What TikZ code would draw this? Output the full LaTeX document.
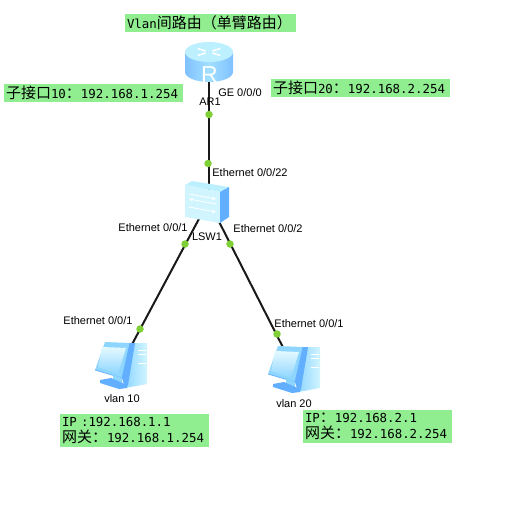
\documentclass[tikz,border=0pt]{standalone}
\usepackage{fontspec}
\setmainfont{Liberation Sans}
\newfontfamily\cjk{Noto Sans CJK SC}
\newfontfamily\monof{DejaVu Sans Mono}
\newcommand{\zh}[1]{{\cjk\fontsize{15}{16}\selectfont #1}}
\usetikzlibrary{calc}
\definecolor{notegreen}{HTML}{90EE90}
\definecolor{portgreen}{HTML}{7FD037}
\definecolor{iconlight}{HTML}{BDF0FF}
\definecolor{iconmid}{HTML}{8FD6FF}
\definecolor{icondark}{HTML}{62AEFF}
\tikzset{
  devnode/.style={inner sep=0pt,minimum size=2pt},
  portdot/.style={circle,fill=portgreen,inner sep=0pt,minimum size=7.5pt},
  portlabel/.style={font=\fontsize{11}{12}\selectfont,inner sep=0pt,yshift=-.7pt},
  notebox/.style={fill=notegreen,inner xsep=2pt,inner ysep=0pt,align=left,
    font=\monof\fontsize{12.4}{16}\selectfont},
  link/.style={line width=2pt,black!90},
  pics/pcicon/.style={code={
    \shade[left color=iconmid,right color=iconlight!70] (9,-22)--(26,-22)--(26,19)--(4,23)--cycle;
    \fill[icondark] (9,-22)--(14,-22)--(7,20)--(4,23)--(1,13)--cycle;
    \draw[white,line width=.7pt] (17,-15)--(25,-15) (17,-11)--(25,-11) (17,-2)--(25,-2);
    \fill[iconmid] (-16,-23)--(9,-22)--(1,13)--(-26,5)--cycle;
    \shade[top color=white!60!iconlight,bottom color=iconmid] (-19,-18)--(5,-17)--(-3,9)--(-23,2)--cycle;
    \draw[icondark,line width=.7pt] (9,-22)--(1,13)--(-26,5);
    \fill[iconmid] (-8,10)--(1,13)--(1,19)--(-8,16)--cycle;
    \fill[icondark] (-21,15)--(-10,13)--(6,20)--(6,23)--(-2,24)--(-21,18)--cycle;
  }},
}
\begin{document}
\begin{tikzpicture}[x=1pt,y=-1pt]
\useasboundingbox (0,0) rectangle (522,506);
\node[devnode] (ar1) at (208.5,62) {};
\node[devnode] (lsw1) at (208.5,201) {};
\node[devnode] (pc10) at (121,365) {};
\node[devnode] (pc20) at (294,369) {};
\draw[link] (ar1)--(lsw1);
\draw[link] (lsw1)--(pc10);
\draw[link] (lsw1)--(pc20);
% ports
\foreach \nm/\px/\py in {p1/209/114.5,p2/208/163.5,p3/185/244,p4/230/244,p5/140/329,p6/277/334}{
  \node[portdot] (\nm) at (\px,\py) {};
}
% router
\shade[left color=iconmid!90!blue,right color=iconmid!90!blue,middle color=iconmid!60!iconlight] (185,52)--(185,72) arc[x radius=24,y radius=10,start angle=180,end angle=0]--(233,52)--cycle;
\fill[iconlight] (209,52) ellipse[x radius=24,y radius=10];
\foreach \ang in {30,150,210,330}{
  \draw[white,line width=1.6pt] ($(209,52)+(\ang:13 and 7)$)--($(209,52)+(\ang:4 and 2)$);
}
\node[text=white,font=\fontsize{23}{23}\selectfont,inner sep=0pt] (rlet) at (209.5,75) {R};
% switch
\fill[iconlight] (185,185)--(192,181)--(229,187)--(220,192)--cycle;
\fill[iconlight!70] (185,185)--(220,192)--(220,223)--(185,217)--cycle;
\fill[icondark] (220,192)--(229,187)--(229,217)--(220,223)--cycle;
\draw[white,line width=.8pt,-stealth] (189,194)--(216,199);
\draw[white,line width=.8pt,-stealth] (216,204)--(189,199);
\draw[white,line width=.8pt,-stealth] (189,207)--(216,212);
% hosts
\pic at (pc10) {pcicon};
\pic at (pc20) {pcicon};
% labels
\node[portlabel] (ar1lab) at (210,101) {AR1};
\node[portlabel] (ge) at (240,92) {GE 0/0/0};
\node[portlabel] (eth22) at (250,172) {Ethernet 0/0/22};
\node[portlabel] (eth1) at (153,227) {Ethernet 0/0/1};
\node[portlabel] (eth2) at (268,228) {Ethernet 0/0/2};
\node[portlabel] (lswlab) at (207,236) {LSW1};
\node[portlabel] (eth3) at (98,320) {Ethernet 0/0/1};
\node[portlabel] (eth4) at (309,323) {Ethernet 0/0/1};
\node[portlabel] (vlanten) at (122,398) {vlan 10};
\node[portlabel] (vlantw) at (294,403) {vlan 20};
% notes
\node[notebox,text width=167pt,minimum height=18pt] (title) at (210.5,23) {Vlan\zh{间路由（单臂路由）}};
\node[notebox,text width=175pt,minimum height=18pt] (subten) at (93.5,93) {\zh{子接口}10\zh{：}192.168.1.254};
\node[notebox,text width=175pt,minimum height=18pt] (subtw) at (360.5,88) {\zh{子接口}20\zh{：}192.168.2.254};
\node[notebox,text width=145pt,minimum height=33pt] (noteten) at (134.5,430.5) {IP :192.168.1.1\\\zh{网关：}192.168.1.254};
\node[notebox,text width=145pt,minimum height=33pt] (notetw) at (377.5,426.5) {IP\zh{：}192.168.2.1\\\zh{网关：}192.168.2.254};
\end{tikzpicture}
\end{document}
